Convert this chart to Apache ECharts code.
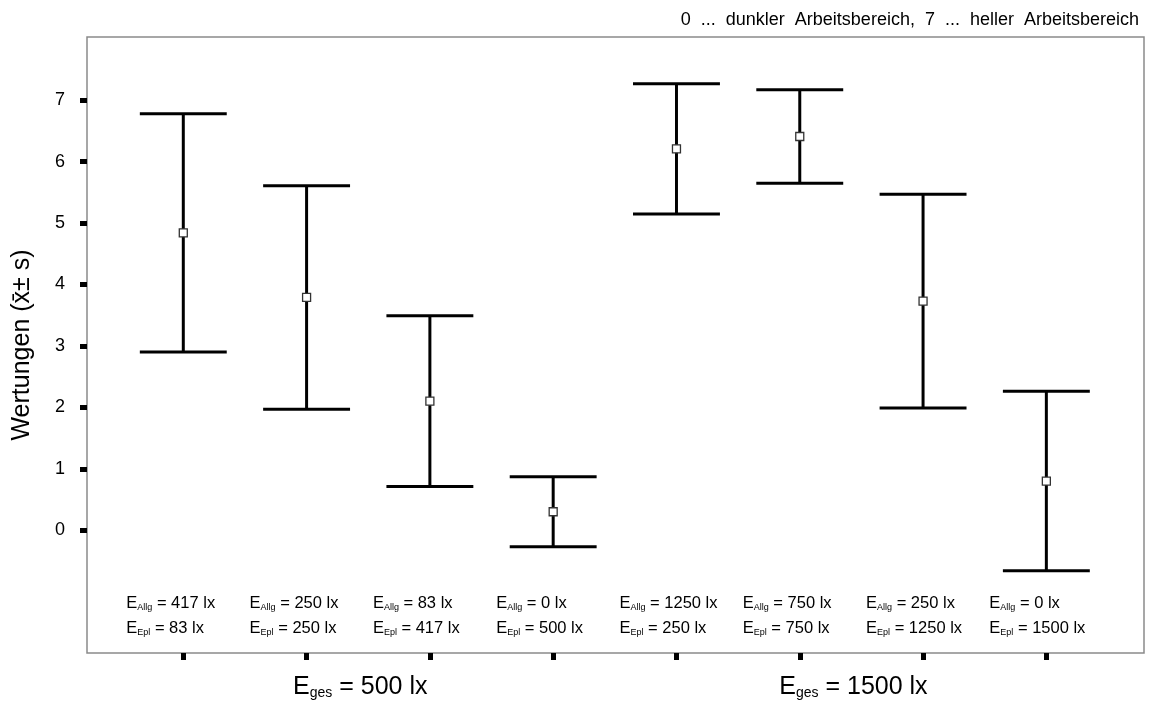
<!DOCTYPE html>
<html>
<head>
<meta charset="utf-8">
<script src="https://cdn.jsdelivr.net/npm/echarts@6/dist/echarts.min.js"></script>
<style>
  html, body { margin: 0; padding: 0; background: #fff; }
  #chart { width: 1156px; height: 704px; }
</style>
</head>
<body>
<div id="chart"></div>
<script>
// Condition positions along the x axis
const positions = [1, 2, 3, 4, 5, 6, 7, 8];
// Mean rating and standard deviation per lighting condition
const meanValues = [4.84, 3.79, 2.10, 0.30, 6.21, 6.41, 3.73, 0.80];
const sdValues = [1.94, 1.82, 1.39, 0.57, 1.06, 0.76, 1.74, 1.46];
// General (Allg) and workplace (Epl) illuminance per condition, lx
const allgLux = [417, 250, 83, 0, 1250, 750, 250, 0];
const eplLux = [83, 250, 417, 500, 250, 750, 1250, 1500];
// Total illuminance of each group and where its caption sits
const groupTotals = [500, 1500];
const groupCentres = [2.5, 6.5];
// Rating scale ticks
const yTicks = [0, 1, 2, 3, 4, 5, 6, 7];
const scaleNote = '0  ...  dunkler  Arbeitsbereich,  7  ...  heller  Arbeitsbereich';
const yTitle = 'Wertungen (x\u0304\u00b1 s)';

const FONT = '"Liberation Sans", Arial, Helvetica, sans-serif';
const CAP_WIDTH = 0.705; // cap length in x-axis units

const errorData = positions.map((p, i) => [p, meanValues[i] - sdValues[i], meanValues[i] + sdValues[i]]);
const meanData = positions.map((p, i) => [p, meanValues[i]]);
const labelData = positions.map((p, i) => [p, -2, allgLux[i], eplLux[i]]);
const groupData = groupCentres.map((c, i) => [c, -2, groupTotals[i]]);

const smallRich = {
  e: { fontFamily: FONT, fontSize: 16.5, color: '#000', lineHeight: 17, verticalAlign: 'bottom' },
  s: { fontFamily: FONT, fontSize: 9, color: '#000', lineHeight: 13, verticalAlign: 'bottom' },
  t: { fontFamily: FONT, fontSize: 16.5, color: '#000', lineHeight: 17, verticalAlign: 'bottom' }
};
const bigRich = {
  e: { fontFamily: FONT, fontSize: 25, color: '#000', lineHeight: 26, verticalAlign: 'bottom' },
  s: { fontFamily: FONT, fontSize: 14, color: '#000', lineHeight: 18, verticalAlign: 'bottom' },
  t: { fontFamily: FONT, fontSize: 25, color: '#000', lineHeight: 26, verticalAlign: 'bottom' }
};

function renderErrorBar(params, api) {
  const x = api.value(0);
  const lo = api.coord([x, api.value(1)]);
  const hi = api.coord([x, api.value(2)]);
  const half = api.size([CAP_WIDTH, 0])[0] / 2;
  const style = { stroke: '#000', lineWidth: 3, fill: null };
  return {
    type: 'group',
    children: [
      { type: 'line', shape: { x1: lo[0], y1: lo[1], x2: hi[0], y2: hi[1] }, style },
      { type: 'line', shape: { x1: hi[0] - half, y1: hi[1], x2: hi[0] + half, y2: hi[1] }, style },
      { type: 'line', shape: { x1: lo[0] - half, y1: lo[1], x2: lo[0] + half, y2: lo[1] }, style }
    ]
  };
}

function renderConditionLabel(params, api) {
  const base = api.coord([api.value(0), api.value(1)]);
  const left = base[0] - 57;
  return {
    type: 'group',
    children: [
      {
        type: 'text',
        style: {
          x: left, y: base[1] - 41,
          text: '{e|E}{s|Allg}{t| = ' + api.value(2) + ' lx}',
          rich: smallRich, textAlign: 'left', textVerticalAlign: 'bottom'
        }
      },
      {
        type: 'text',
        style: {
          x: left, y: base[1] - 16,
          text: '{e|E}{s|Epl}{t| = ' + api.value(3) + ' lx}',
          rich: smallRich, textAlign: 'left', textVerticalAlign: 'bottom'
        }
      }
    ]
  };
}

function renderGroupLabel(params, api) {
  const base = api.coord([api.value(0), api.value(1)]);
  return {
    type: 'text',
    style: {
      x: base[0] - 8, y: base[1] + 47,
      text: '{e|E}{s|ges}{t| = ' + api.value(2) + ' lx}',
      rich: bigRich, textAlign: 'center', textVerticalAlign: 'bottom'
    }
  };
}

const chart = echarts.init(document.getElementById('chart'), null, { renderer: 'canvas' });
chart.setOption({
  animation: false,
  backgroundColor: '#fff',
  title: {
    text: scaleNote,
    right: 12,
    top: 6,
    textStyle: { fontFamily: FONT, fontSize: 18, fontWeight: 'normal', color: '#000' }
  },
  grid: {
    left: 87, right: 12, top: 37, bottom: 51,
    show: true, borderColor: '#8a8a8a', borderWidth: 1.5, backgroundColor: 'transparent'
  },
  xAxis: {
    type: 'value',
    min: 0.219, max: 8.792,
    axisLine: { show: false, onZero: false },
    splitLine: { show: false },
    axisTick: { show: true, customValues: positions, length: 7, lineStyle: { color: '#000', width: 5 } },
    axisLabel: { show: false }
  },
  yAxis: {
    type: 'value',
    min: -2, max: 8.03, interval: 1,
    name: yTitle,
    nameLocation: 'middle',
    nameGap: 52,
    nameTextStyle: { fontFamily: FONT, fontSize: 25, color: '#000' },
    axisLine: { show: false, onZero: false },
    splitLine: { show: false },
    axisTick: { show: true, customValues: yTicks, length: 7, lineStyle: { color: '#000', width: 5 } },
    axisLabel: { customValues: yTicks, margin: 22, fontFamily: FONT, fontSize: 18, color: '#000' }
  },
  series: [
    {
      type: 'custom', name: 'Streuung', data: errorData,
      renderItem: renderErrorBar, encode: { x: 0, y: [1, 2] }, z: 2
    },
    {
      type: 'scatter', name: 'Mittelwert', data: meanData,
      symbol: 'rect', symbolSize: 8,
      itemStyle: { color: '#fff', borderColor: '#333', borderWidth: 1.3, opacity: 1 },
      z: 3
    },
    {
      type: 'custom', name: 'Beleuchtung', data: labelData,
      renderItem: renderConditionLabel, encode: { x: 0, y: 1 }, clip: false, silent: true
    },
    {
      type: 'custom', name: 'Gesamt', data: groupData,
      renderItem: renderGroupLabel, encode: { x: 0, y: 1 }, clip: false, silent: true
    }
  ]
});
</script>
</body>
</html>
